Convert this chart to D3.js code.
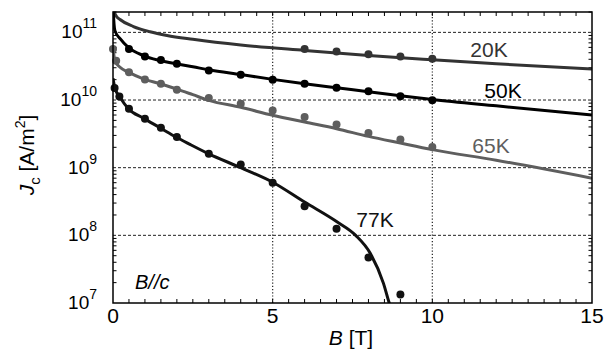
<!DOCTYPE html>
<html>
<head>
<meta charset="utf-8">
<script src="https://cdn.jsdelivr.net/npm/d3@7"></script>
<style>
  body { margin: 0; background: #fff; }
  text { font-family: "Liberation Sans", Arial, sans-serif; }
</style>
</head>
<body>
<div id="chart"></div>
<script>
/**
 * DATA
 * */
// measured points, B in tesla, Jc in A/m^2
const field20 = [6, 7, 8, 9, 10];
const jc20 = [5.7e10, 5.2e10, 4.75e10, 4.4e10, 4.06e10];

const field50 = [0.5, 1, 1.5, 2, 3, 4, 5, 6, 7, 8, 9, 10];
const jc50 = [5.7e10, 4.4e10, 3.9e10, 3.43e10, 2.73e10, 2.36e10, 1.99e10, 1.74e10, 1.52e10, 1.35e10, 1.14e10, 9.9e9];

const field65 = [0, 0.1, 0.5, 1, 1.5, 2, 3, 4, 5, 6, 7, 8, 9, 10];
const jc65 = [5.7e10, 3.8e10, 2.58e10, 2.01e10, 1.74e10, 1.42e10, 1.07e10, 8.8e9, 7.0e9, 5.6e9, 4.36e9, 3.25e9, 2.6e9, 2.02e9];

const field77 = [0.05, 0.2, 0.5, 1, 1.5, 2, 3, 4, 5, 6, 7, 8, 9];
const jc77 = [1.5e10, 1.13e10, 7.4e9, 5.3e9, 3.9e9, 2.84e9, 1.6e9, 1.11e9, 6.0e8, 2.7e8, 1.25e8, 4.7e7, 1.34e7];

// fitted curves
const fitB20 = [0, 0.03, 0.1, 0.22, 0.64, 1.16, 1.69, 2.5, 4, 6, 8, 10, 12, 15];
const fitJ20 = [4e11, 2.1e11, 1.75e11, 1.55e11, 1.22e11, 1.02e11, 9.0e10, 7.9e10, 6.5e10, 5.4e10, 4.55e10, 3.93e10, 3.43e10, 2.87e10];

const fitB50 = [0, 0.01, 0.06, 0.23, 0.48, 0.95, 1.47, 1.97, 2.5, 3, 4, 5, 6, 7, 8, 9, 10, 12, 15];
const fitJ50 = [4e11, 2.1e11, 1.06e11, 8.0e10, 6.0e10, 4.55e10, 3.84e10, 3.43e10, 3.1e10, 2.8e10, 2.38e10, 2.02e10, 1.74e10, 1.52e10, 1.33e10, 1.16e10, 1.02e10, 8.2e9, 6.0e9];

const fitB65 = [0, 0.06, 0.22, 0.48, 0.95, 1.47, 2, 2.5, 3, 4, 5, 6, 7, 8, 9, 10, 12, 15];
const fitJ65 = [6e10, 3.8e10, 3.05e10, 2.58e10, 2.06e10, 1.74e10, 1.45e10, 1.2e10, 9.9e9, 7.8e9, 5.95e9, 4.72e9, 3.77e9, 2.9e9, 2.31e9, 1.85e9, 1.29e9, 7.0e8];

const fitB77 = [0, 0.06, 0.22, 0.48, 0.95, 1.47, 1.97, 2.41, 3, 4, 5, 6, 7, 7.6, 8.06, 8.47, 8.65, 8.72];
const fitJ77 = [2.1e10, 1.5e10, 1.1e10, 7.45e9, 5.4e9, 3.9e9, 2.84e9, 2.21e9, 1.6e9, 1.0e9, 6.1e8, 3.1e8, 1.6e8, 1.0e8, 5.4e7, 1.95e7, 1.0e7, 8e6];

const xTicks = [0, 5, 10, 15];
const yDecades = [7, 8, 9, 10, 11];

/**
 * CONSTANTS
 * */
const width = 611, height = 351;
const margin = { top: 12, left: 113, right: 19, bottom: 48 };

const series = [
  { name: "20K", B: field20, J: jc20, fB: fitB20, fJ: fitJ20, color: "#333333", label: [489, 56.5] },
  { name: "50K", B: field50, J: jc50, fB: fitB50, fJ: fitJ50, color: "#000000", label: [503, 98] },
  { name: "65K", B: field65, J: jc65, fB: fitB65, fJ: fitJ65, color: "#5e5e5e", label: [491, 153] },
  { name: "77K", B: field77, J: jc77, fB: fitB77, fJ: fitJ77, color: "#111111", label: [375, 226.5] }
];

const svg = d3.select("#chart").append("svg")
  .attr("width", width)
  .attr("height", height);

const x = d3.scaleLinear().domain([0, 15]).range([margin.left, width - margin.right]);
const y = d3.scaleLog().domain([1e7, 2e11]).range([height - margin.bottom, margin.top]);

const x0 = x.range()[0], x1 = x.range()[1];
const y0 = y.range()[0], y1 = y.range()[1];

svg.append("clipPath").attr("id", "plot")
  .append("rect").attr("x", x0).attr("y", y1).attr("width", x1 - x0).attr("height", y0 - y1);

// grid
svg.append("g")
  .selectAll("line")
  .data(yDecades.slice(1, -0 || undefined).filter(d => d > 7))
  .join("line")
  .attr("x1", x0).attr("x2", x1)
  .attr("y1", d => y(Math.pow(10, d))).attr("y2", d => y(Math.pow(10, d)))
  .attr("stroke", "#222").attr("stroke-width", 1).attr("stroke-dasharray", "3,2");

svg.append("g")
  .selectAll("line")
  .data([5, 10])
  .join("line")
  .attr("x1", d => x(d)).attr("x2", d => x(d))
  .attr("y1", y0).attr("y2", y1)
  .attr("stroke", "#222").attr("stroke-width", 1.2).attr("stroke-dasharray", "1.2,2");

// minor ticks (inward on all four sides)
const xMinor = d3.range(0.5, 15, 0.5);
const ticks = svg.append("g").attr("stroke", "#000").attr("stroke-width", 1);
ticks.selectAll(".xb").data(xMinor).join("line")
  .attr("x1", d => x(d)).attr("x2", d => x(d)).attr("y1", y0).attr("y2", y0 - 4);
ticks.selectAll(".xt").data(xMinor).join("line")
  .attr("x1", d => x(d)).attr("x2", d => x(d)).attr("y1", y1).attr("y2", y1 + 4);

const yMinor = [];
yDecades.forEach(dec => { for (let m = 2; m <= 9; m++) { const v = m * Math.pow(10, dec); if (v <= 2e11) yMinor.push(v); } });
ticks.selectAll(".yl").data(yMinor).join("line")
  .attr("x1", x0).attr("x2", x0 + 3.5).attr("y1", d => y(d)).attr("y2", d => y(d));
ticks.selectAll(".yr").data(yMinor).join("line")
  .attr("x1", x1).attr("x2", x1 - 3.5).attr("y1", d => y(d)).attr("y2", d => y(d));

// curves
const line = d3.line()
  .x(d => x(d[0]))
  .y(d => y(d[1]))
  .curve(d3.curveMonotoneX);

const plot = svg.append("g").attr("clip-path", "url(#plot)");
series.forEach(s => {
  plot.append("path")
    .datum(s.fB.map((b, i) => [b, s.fJ[i]]))
    .attr("fill", "none")
    .attr("stroke", s.color)
    .attr("stroke-width", 3)
    .attr("d", line);
});

// points
series.forEach(s => {
  svg.append("g")
    .selectAll("circle")
    .data(s.B.map((b, i) => [b, s.J[i]]))
    .join("circle")
    .attr("cx", d => x(d[0]))
    .attr("cy", d => y(d[1]))
    .attr("r", 4)
    .attr("fill", s.color);
});

// frame
svg.append("rect")
  .attr("x", x0).attr("y", y1).attr("width", x1 - x0).attr("height", y0 - y1)
  .attr("fill", "none").attr("stroke", "#000").attr("stroke-width", 1.5);

// tick labels
svg.append("g")
  .selectAll("text")
  .data(xTicks)
  .join("text")
  .attr("x", d => x(d))
  .attr("y", y0 + 20)
  .attr("text-anchor", "middle")
  .attr("font-size", 21)
  .text(d => d);

const yLab = svg.append("g")
  .selectAll("text")
  .data(yDecades)
  .join("text")
  .attr("x", 97)
  .attr("y", d => y(Math.pow(10, d)) + 6)
  .attr("text-anchor", "end")
  .attr("font-size", 19);
yLab.append("tspan").text("10");
yLab.append("tspan").attr("dy", -10).attr("font-size", 14).text(d => d);

// series labels
series.forEach(s => {
  svg.append("text")
    .attr("x", s.label[0]).attr("y", s.label[1])
    .attr("text-anchor", "middle")
    .attr("font-size", 21)
    .attr("fill", s.color)
    .text(s.name);
});

svg.append("text")
  .attr("x", 135).attr("y", 289)
  .attr("font-size", 20).attr("font-style", "italic")
  .text("B//c");

// axis titles
const xt = svg.append("text")
  .attr("x", 351).attr("y", 345)
  .attr("text-anchor", "middle")
  .attr("font-size", 21);
xt.append("tspan").attr("font-style", "italic").text("B");
xt.append("tspan").text(" [T]");

const yt = svg.append("text")
  .attr("transform", "translate(34,155) rotate(-90)")
  .attr("text-anchor", "middle")
  .attr("font-size", 21);
yt.append("tspan").attr("font-style", "italic").text("J");
yt.append("tspan").attr("font-size", 15).attr("dy", 6).text("c");
yt.append("tspan").attr("dy", -6).text(" [A/m");
yt.append("tspan").attr("font-size", 14).attr("dy", -9).text("2");
yt.append("tspan").attr("dy", 9).text("]");
</script>
</body>
</html>
